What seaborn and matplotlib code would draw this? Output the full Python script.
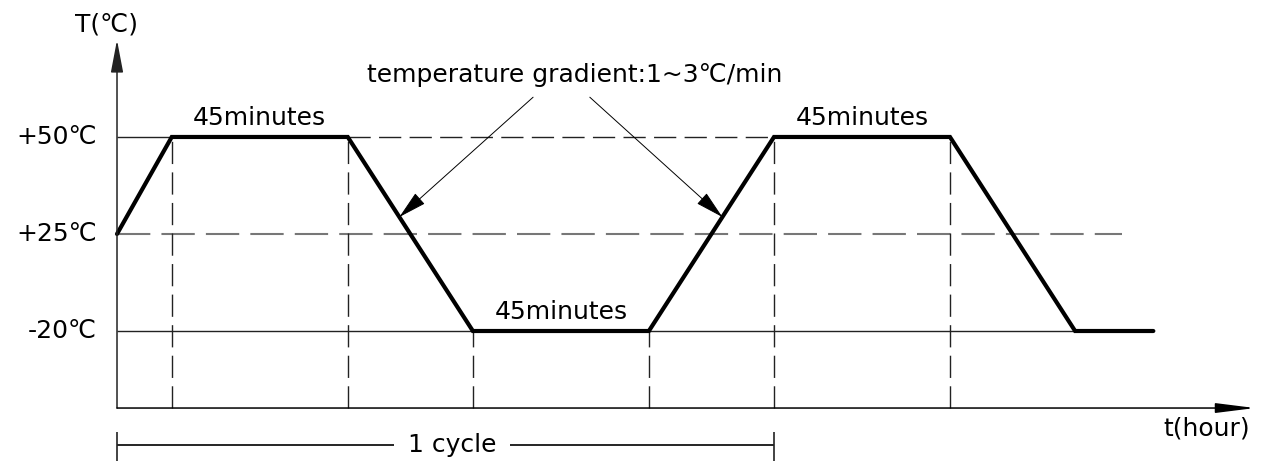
import matplotlib
matplotlib.use('Agg')
import matplotlib.pyplot as plt
import numpy as np
import seaborn as sns

# temperature profile, schematic (one cycle and a bit)
minutes = [0, 14, 59, 91, 136, 168, 213, 245, 265]
temps = [25, 50, 50, -20, -20, 50, 50, -20, -20]
level_labels = ['-20℃', '+25℃', '+50℃']
level_temps = [-20, 25, 50]
plateau_text = '45minutes'
gradient_text = 'temperature gradient:1~3℃/min'

# drawing is schematic: each temperature gets its own evenly spaced row
row = {t: i + 1 for i, t in enumerate(level_temps)}
levels = [row[t] for t in temps]

sns.set_theme(style='white')
plt.rcParams['font.family'] = ['DejaVu Sans', 'Noto Sans CJK SC']
plt.rcParams['text.color'] = 'black'
plt.rcParams['lines.scale_dashes'] = False

fig = plt.figure(figsize=(12.73, 4.61), dpi=100)
ax = fig.add_axes([0, 0, 1, 1])
ax.set_xlim(-29.92, 295.6)
ax.set_ylim(-0.34, 4.412)
ax.axis('off')

ybot = 0.206
dark = '#222222'
grey = '#777777'
fs = 18

# guide lines
ax.hlines(row[50], 0, minutes[1], color=dark, lw=1.0)
ax.hlines(row[50], minutes[2], minutes[5], color=dark, lw=1.0, linestyles=(0, (16, 6)))
ax.hlines(row[25], 0, 257, color=grey, lw=1.5, linestyles=(0, (24, 8)))
ax.hlines(row[-20], 0, minutes[-1], color=dark, lw=1.0)
for t, lv in zip(minutes[1:7], levels[1:7]):
    ax.vlines(t, ybot, lv, color=dark, lw=1.0, linestyles=(0, (16, 6)))

# the profile itself
sns.lineplot(x=minutes, y=levels, sort=False, estimator=None, color='black',
             lw=3.0, ax=ax, legend=False, solid_joinstyle='miter')

# axes with arrows
ax.annotate('', xy=(0, 4.0), xytext=(0, ybot),
            arrowprops=dict(arrowstyle='-|>,head_length=2.0,head_width=0.38',
                            mutation_scale=10, color=dark, lw=1.1, shrinkA=0, shrinkB=0))
ax.annotate('', xy=(291, ybot), xytext=(0, ybot),
            arrowprops=dict(arrowstyle='-|>,head_length=2.4,head_width=0.3',
                            mutation_scale=10, color='black', lw=1.1, shrinkA=0, shrinkB=0))

ax.text(-2.8, 4.155, 'T(℃)', ha='center', va='center', fontsize=fs)
ax.text(278.7, 0.0, 't(hour)', ha='center', va='center', fontsize=fs)
for t, lab in zip(level_temps, level_labels):
    ax.text(-5.1, row[t], lab, ha='right', va='center', fontsize=fs)

# plateau labels
for i in (1, 3, 5):
    ax.text((minutes[i] + minutes[i + 1]) / 2, levels[i] + 0.2, plateau_text,
            ha='center', va='center', fontsize=fs)

# gradient note with two arrows to the ramps
ax.text(117, 3.64, gradient_text, ha='center', va='center', fontsize=fs)
y_tip = 2.175
for (i, start) in ((2, 106.4), (4, 120.9)):
    x0, x1 = minutes[i], minutes[i + 1]
    y0, y1 = levels[i], levels[i + 1]
    x_tip = x0 + (y_tip - y0) / (y1 - y0) * (x1 - x0)
    ax.annotate('', xy=(x_tip, y_tip), xytext=(start, 3.41),
                arrowprops=dict(arrowstyle='-|>,head_length=1.8,head_width=0.45',
                                mutation_scale=10, color='black', lw=0.7,
                                shrinkA=0, shrinkB=0))

# one cycle bracket
yc = -0.175
ax.hlines(yc, minutes[0], minutes[5], color='black', lw=1.2)
ax.vlines([minutes[0], minutes[5]], yc + 0.135, -0.34, color=dark, lw=1.2)
ax.text(85.7, yc, '1 cycle', ha='center', va='center', fontsize=fs,
        bbox=dict(facecolor='white', edgecolor='none', pad=10))

fig.savefig('out.png', dpi=100)
